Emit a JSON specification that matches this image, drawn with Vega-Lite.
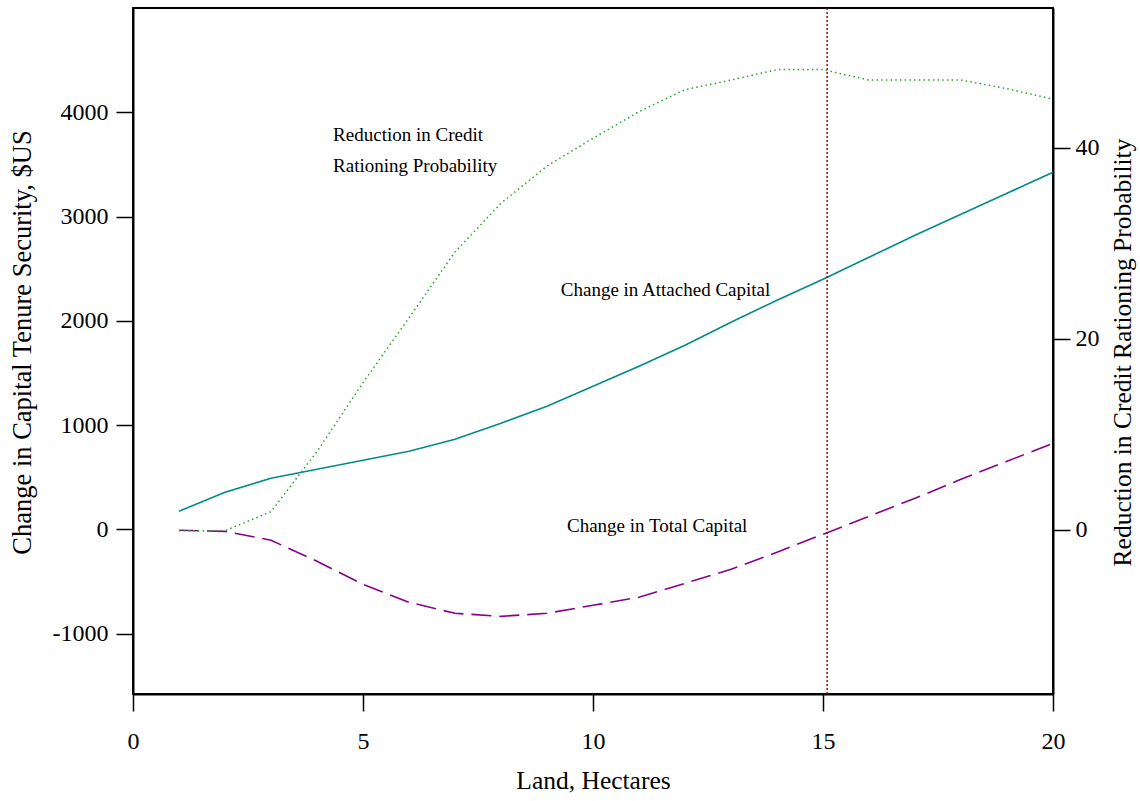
{
  "$schema": "https://vega.github.io/schema/vega-lite/v6.json",
  "width": 920,
  "height": 686,
  "autosize": {"type": "none"},
  "padding": {"left": 133, "top": 8, "right": 87, "bottom": 107},
  "background": "white",
  "config": {
    "font": "Liberation Serif",
    "view": {"stroke": "black", "strokeWidth": 2},
    "axis": {
      "grid": false,
      "labelFlush": false,
      "labelOverlap": false,
      "domainColor": "black",
      "domainWidth": 2,
      "tickColor": "black",
      "tickWidth": 1.5,
      "tickSize": 17,
      "labelFont": "Liberation Serif",
      "labelFontSize": 24,
      "labelColor": "black",
      "titleFont": "Liberation Serif",
      "titleFontSize": 25.5,
      "titleFontWeight": "normal",
      "titleColor": "black"
    }
  },
  "datasets": {
    "curves": [
      {"land": 1, "attached": 173, "total": -10, "credit": -0.1},
      {"land": 2, "attached": 355, "total": -20, "credit": -0.1},
      {"land": 3, "attached": 489, "total": -105, "credit": 1.9},
      {"land": 4, "attached": 575, "total": -307, "credit": 8.2},
      {"land": 5, "attached": 662, "total": -528, "credit": 15.4},
      {"land": 6, "attached": 748, "total": -700, "credit": 22.2},
      {"land": 7, "attached": 863, "total": -806, "credit": 29.1},
      {"land": 8, "attached": 1017, "total": -835, "credit": 34.2},
      {"land": 9, "attached": 1180, "total": -806, "credit": 38.1},
      {"land": 10, "attached": 1372, "total": -729, "credit": 41.0},
      {"land": 11, "attached": 1564, "total": -652, "credit": 43.8},
      {"land": 12, "attached": 1765, "total": -518, "credit": 46.1},
      {"land": 13, "attached": 1986, "total": -384, "credit": 47.1},
      {"land": 14, "attached": 2197, "total": -220, "credit": 48.2},
      {"land": 15, "attached": 2398, "total": -48, "credit": 48.2},
      {"land": 16, "attached": 2609, "total": 125, "credit": 47.1},
      {"land": 17, "attached": 2820, "total": 297, "credit": 47.1},
      {"land": 18, "attached": 3022, "total": 480, "credit": 47.1},
      {"land": 19, "attached": 3223, "total": 652, "credit": 46.2},
      {"land": 20, "attached": 3424, "total": 825, "credit": 45.1}
    ],
    "labels": [
      {"tx": 4.35, "ty": 3779, "label": "Reduction in Credit"},
      {"tx": 4.35, "ty": 3482, "label": "Rationing Probability"},
      {"tx": 9.3, "ty": 2293, "label": "Change in Attached Capital"},
      {"tx": 9.435, "ty": 29, "label": "Change in Total Capital"}
    ],
    "threshold": [{"ref": 15.09}]
  },
  "layer": [
    {
      "layer": [
        {
          "data": {"name": "curves"},
          "mark": {"type": "line", "color": "#008b8b", "strokeWidth": 1.6},
          "encoding": {
            "x": {
              "field": "land", "type": "quantitative",
              "scale": {"domain": [0, 20], "nice": false, "zero": false},
              "axis": {"values": [0, 5, 10, 15, 20], "labelPadding": 18, "titlePadding": 15, "labelExpr": "datum.value + ''"},
              "title": "Land, Hectares"
            },
            "y": {
              "field": "attached", "type": "quantitative",
              "scale": {"domain": [-1580, 5000], "nice": false, "zero": false},
              "axis": {
                "values": [-1000, 0, 1000, 2000, 3000, 4000],
                "labelExpr": "datum.value + ''",
                "labelPadding": 8,
                "titleX": -111,
                "titleY": 334,
                "titleFontSize": 26.5,
                "titleAlign": "center",
                "titleBaseline": "middle",
                "titleAngle": 270
              },
              "title": "Change in Capital Tenure Security, $US"
            }
          }
        },
        {
          "data": {"name": "curves"},
          "mark": {"type": "line", "color": "#8b008b", "strokeWidth": 1.6, "strokeDash": [20, 8]},
          "encoding": {
            "x": {"field": "land", "type": "quantitative", "title": "Land, Hectares"},
            "y": {"field": "total", "type": "quantitative", "title": "Change in Capital Tenure Security, $US"}
          }
        },
        {
          "data": {"name": "threshold"},
          "mark": {"type": "rule", "color": "#b00000", "strokeWidth": 1.5, "strokeDash": [2, 2]},
          "encoding": {
            "x": {"field": "ref", "type": "quantitative", "title": "Land, Hectares"}
          }
        },
        {
          "data": {"name": "labels"},
          "mark": {"type": "text", "font": "Liberation Serif", "fontSize": 19, "align": "left", "baseline": "middle", "color": "black"},
          "encoding": {
            "x": {"field": "tx", "type": "quantitative", "title": "Land, Hectares"},
            "y": {"field": "ty", "type": "quantitative", "title": "Change in Capital Tenure Security, $US"},
            "text": {"field": "label"}
          }
        }
      ]
    },
    {
      "data": {"name": "curves"},
      "mark": {"type": "line", "color": "#22a822", "strokeWidth": 1.5, "strokeDash": [1.5, 3.2]},
      "encoding": {
        "x": {"field": "land", "type": "quantitative", "title": "Land, Hectares"},
        "y": {
          "field": "credit", "type": "quantitative",
          "scale": {"domain": [-17.2, 54.65], "nice": false, "zero": false},
          "axis": {
            "orient": "right",
            "values": [0, 20, 40],
            "labelExpr": "datum.value + ''",
            "labelPadding": 5,
            "titleX": 69,
            "titleY": 344,
            "titleAlign": "center",
            "titleBaseline": "middle",
            "titleAngle": 270
          },
          "title": "Reduction in Credit Rationing Probability"
        }
      }
    }
  ],
  "resolve": {"scale": {"y": "independent"}}
}
